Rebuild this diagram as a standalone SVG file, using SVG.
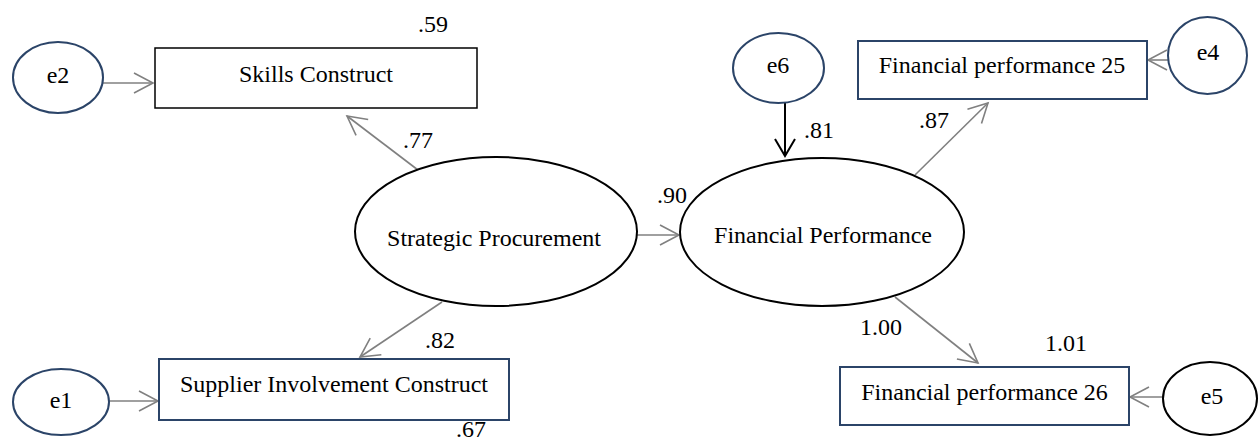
<svg xmlns="http://www.w3.org/2000/svg" width="1258" height="444" viewBox="0 0 1258 444" font-family="'Liberation Serif', 'Times New Roman', serif">
<defs>
<style>
text{font-family:"Liberation Serif","Times New Roman",serif;font-size:24px;fill:#000}
.n{text-anchor:middle}
.eb{fill:#fff;stroke:#2b4468;stroke-width:2}
.ek{fill:#fff;stroke:#000;stroke-width:2}
.rb{fill:#fff;stroke:#2b4468;stroke-width:2}
.rk{fill:#fff;stroke:#000;stroke-width:1.5}
.c{fill:none;stroke:#808080;stroke-width:1.6;marker-end:url(#ag)}
.ck{fill:none;stroke:#000;stroke-width:2;marker-end:url(#ak)}
</style>
<marker id="ag" markerUnits="userSpaceOnUse" markerWidth="40" markerHeight="40" viewBox="-20 -20 40 40" refX="0" refY="0" orient="auto" overflow="visible">
<path d="M-19,-10 L0,0 L-19,10" fill="none" stroke="#808080" stroke-width="1.6"/>
</marker>
<marker id="ak" markerUnits="userSpaceOnUse" markerWidth="40" markerHeight="40" viewBox="-20 -20 40 40" refX="0" refY="0" orient="auto" overflow="visible">
<path d="M-17,-10 L0,0 L-17,10" fill="none" stroke="#000" stroke-width="2"/>
</marker>
</defs>
<rect width="1258" height="444" fill="#fff"/>
<g id="connectors">
<line class="c" x1="103" y1="83" x2="153" y2="83"/>
<line class="c" x1="418" y1="170" x2="347" y2="116"/>
<line class="c" x1="442" y1="302" x2="360" y2="357"/>
<line class="c" x1="109" y1="401" x2="158" y2="401"/>
<line class="c" x1="637" y1="235" x2="679" y2="235"/>
<line class="ck" x1="785" y1="103" x2="785" y2="156"/>
<line class="c" x1="915" y1="175" x2="988" y2="103"/>
<line class="c" x1="895" y1="297" x2="978" y2="363"/>
<line class="c" x1="1168" y1="60" x2="1148" y2="60"/>
<line class="c" x1="1163" y1="397" x2="1130" y2="397"/>
</g>
<g id="labels">
<text x="418" y="32">.59</text>
<text x="403" y="148">.77</text>
<text x="425" y="348">.82</text>
<text x="456" y="437">.67</text>
<text x="657" y="203">.90</text>
<text x="804" y="138">.81</text>
<text x="919" y="128">.87</text>
<text x="860" y="335">1.00</text>
<text x="1045" y="351">1.01</text>
</g>
<g id="e2"><ellipse class="eb" cx="58" cy="77.5" rx="45" ry="35.5"/><text class="n" x="58" y="83">e2</text></g>
<g id="skills"><rect class="rk" x="155" y="48" width="322" height="60"/><text class="n" x="316" y="82">Skills Construct</text></g>
<g id="e1"><ellipse class="eb" cx="61" cy="402" rx="48" ry="33"/><text class="n" x="61" y="408">e1</text></g>
<g id="supplier"><rect class="rb" x="159" y="359" width="350" height="61"/><text class="n" x="334" y="392">Supplier Involvement Construct</text></g>
<g id="sp"><ellipse class="ek" cx="496" cy="231.5" rx="141" ry="74.5"/><text class="n" x="494" y="246">Strategic Procurement</text></g>
<g id="fp"><ellipse class="ek" cx="822" cy="232" rx="142" ry="74"/><text class="n" x="823" y="243">Financial Performance</text></g>
<g id="e6"><ellipse class="eb" cx="778.5" cy="68" rx="45.5" ry="35"/><text class="n" x="778" y="73">e6</text></g>
<g id="fp25"><rect class="rb" x="858" y="41" width="289" height="58"/><text class="n" x="1002" y="73">Financial performance 25</text></g>
<g id="e4"><ellipse class="eb" cx="1207.5" cy="55.5" rx="39.5" ry="38.5"/><text class="n" x="1208" y="60">e4</text></g>
<g id="fp26"><rect class="rb" x="840" y="367" width="289" height="58"/><text class="n" x="984.5" y="400">Financial performance 26</text></g>
<g id="e5"><ellipse class="ek" cx="1210" cy="398.5" rx="47" ry="36.5"/><text class="n" x="1212" y="404">e5</text></g>
</svg>
